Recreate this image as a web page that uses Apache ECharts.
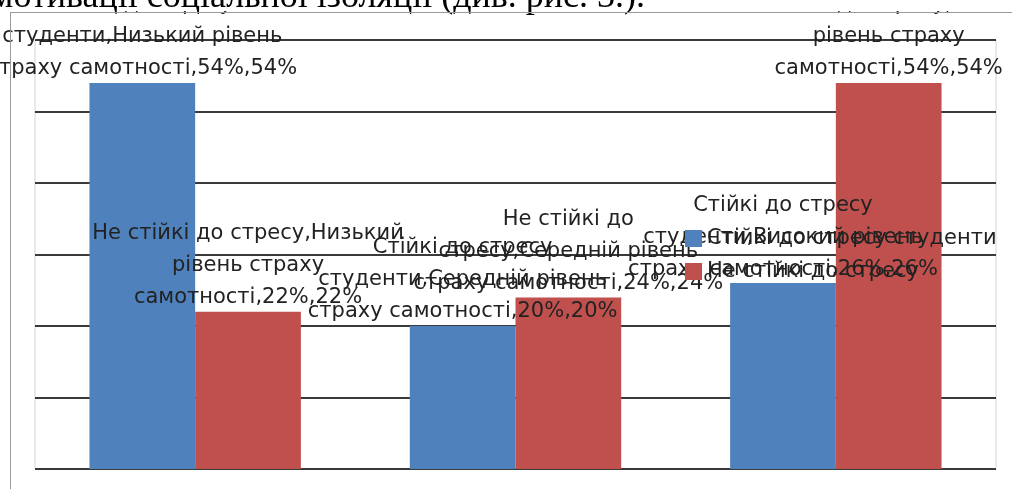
<!DOCTYPE html>
<html><head><meta charset="utf-8">
<script src="https://cdn.jsdelivr.net/npm/echarts@6/dist/echarts.min.js"></script>
<style>html,body{margin:0;padding:0;background:#fff;overflow:hidden}#c{width:1012px;height:489px}</style>
</head><body><div id="c"></div>
<script>
// ---- data ----
const categories = ['Низький рівень страху самотності', 'Середній рівень страху самотності', 'Високий рівень страху самотності'];
const seriesNames = ['Стійкі до стресу студенти', 'Не стійкі до стресу'];
const stableValues = [54, 20, 26];
const unstableValues = [22, 24, 54];
const yTicks = [0, 10, 20, 30, 40, 50, 60];
const pageText = 'мотивації соціальної ізоляції (див. рис. 3.).';

// ---- helpers ----
const FONT = '"DejaVu Sans"';
const FS = 21;
function wrap(str, maxChars) {
  const words = str.split(' ');
  const lines = [];
  let cur = '';
  for (const w of words) {
    if (!cur) cur = w;
    else if ((cur + ' ' + w).length <= maxChars) cur += ' ' + w;
    else { lines.push(cur); cur = w; }
  }
  if (cur) lines.push(cur);
  return lines.join('\n');
}
const labelOpt = {
  show: true,
  position: 'top',
  distance: -2,
  color: '#222',
  fontFamily: FONT,
  fontSize: FS,
  lineHeight: 32,
  align: 'center',
  formatter: p => wrap(p.seriesName + ',' + p.name + ',' + p.value + '%,' + p.value + '%', 27)
};

const chart = echarts.init(document.getElementById('c'), null, { renderer: 'canvas' });
chart.setOption({
  animation: false,
  backgroundColor: '#fff',
  grid: { left: 35, right: 16, top: 40, bottom: 20, show: true, borderColor: '#d4d4d4', borderWidth: 1, backgroundColor: '#fff' },
  legend: {
    orient: 'vertical', left: 685, top: 228, padding: 0,
    itemWidth: 17, itemHeight: 17, itemGap: 12, icon: 'rect',
    textStyle: { fontFamily: FONT, fontSize: FS, color: '#222' },
    data: seriesNames
  },
  xAxis: {
    type: 'category', data: categories,
    axisLine: { show: false }, axisTick: { show: false }, axisLabel: { show: false }
  },
  yAxis: {
    type: 'value', min: yTicks[0], max: yTicks[yTicks.length - 1], interval: yTicks[1] - yTicks[0],
    axisLine: { show: false }, axisTick: { show: false }, axisLabel: { show: false },
    splitLine: { show: true, lineStyle: { color: '#3a3a3a', width: 2 } }
  },
  series: [
    { name: seriesNames[0], type: 'bar', data: stableValues, barGap: '0%', barCategoryGap: '34%',
      itemStyle: { color: '#4F81BD' }, label: labelOpt },
    { name: seriesNames[1], type: 'bar', data: unstableValues, barGap: '0%', barCategoryGap: '34%',
      itemStyle: { color: '#C0504D' }, label: labelOpt }
  ],
  graphic: [
    { type: 'rect', z: 100, shape: { x: 0, y: 0, width: 1012, height: 11 }, style: { fill: '#fff' } },
    { type: 'text', z: 101, x: 645, y: -2, style: { text: pageText, font: '36px "Liberation Serif"', fill: '#000', align: 'right', verticalAlign: 'middle' } },
    { type: 'line', z: 102, shape: { x1: 10, y1: 12.5, x2: 1012, y2: 12.5 }, style: { stroke: '#9a9a9a', lineWidth: 1 } },
    { type: 'line', z: 102, shape: { x1: 10.5, y1: 12.5, x2: 10.5, y2: 489 }, style: { stroke: '#9a9a9a', lineWidth: 1 } }
  ]
});
</script>
</body></html>
